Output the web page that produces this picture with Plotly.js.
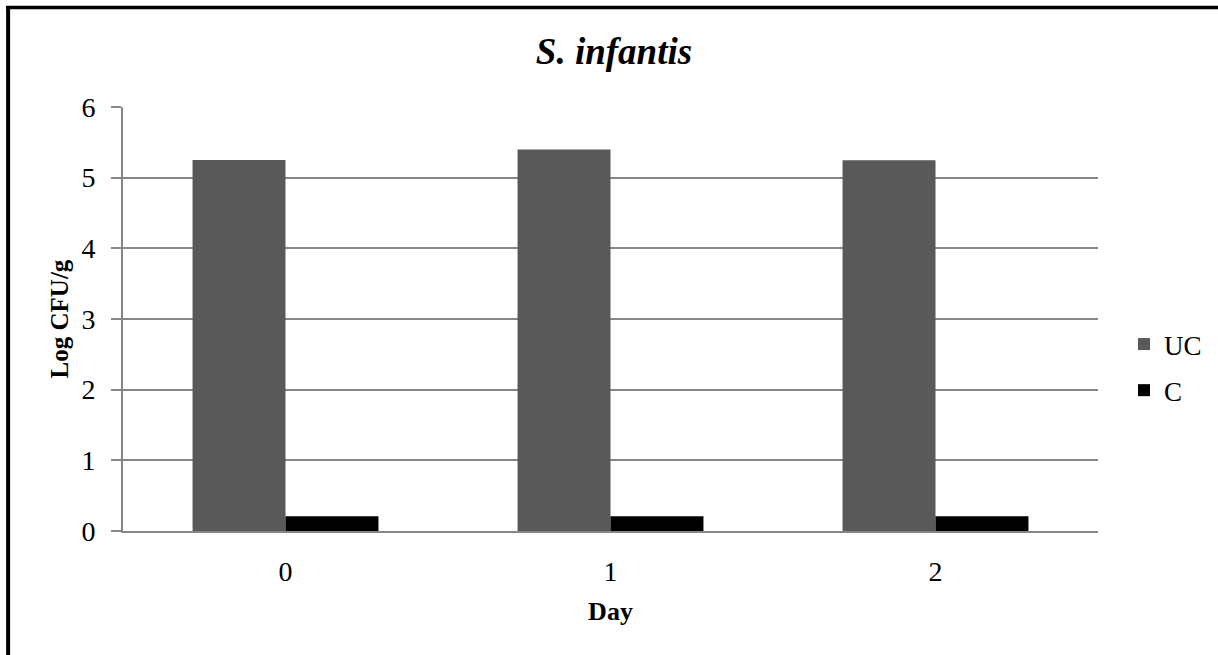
<!DOCTYPE html>
<html>
<head>
<meta charset="utf-8">
<script src="https://cdn.plot.ly/plotly-3.0.1.min.js"></script>
<style>
  html, body { margin: 0; padding: 0; background: #fff; }
  #chart { width: 1218px; height: 655px; }
</style>
</head>
<body>
<div id="chart"></div>
<script>
// Salmonella Infantis counts per storage day
const days = ['0', '1', '2'];
const ucValues = [5.25, 5.40, 5.245];
const cValues = [0.21, 0.21, 0.21];
const yTicks = [0, 1, 2, 3, 4, 5, 6];

const W = 1218, H = 655;
const M = { l: 123, r: 119, t: 107, b: 124 };
const plotW = W - M.l - M.r;
const plotH = H - M.t - M.b;
// pixel -> paper helpers for the frame lines and legend
const px = v => (v - M.l) / plotW;
const py = v => 1 - (v - M.t) / plotH;

const serif = '"Liberation Serif", "Times New Roman", serif';
const grid = '#868686';

const traces = [
  { type: 'bar', name: 'UC', x: days, y: ucValues,
    marker: { color: '#595959', line: { width: 0 } },
    legendgroup: 'uc', hoverinfo: 'y' },
  { type: 'bar', name: 'C', x: days, y: cValues,
    marker: { color: '#000000', line: { width: 0 } },
    legendgroup: 'c', hoverinfo: 'y' }
];

const layout = {
  width: W, height: H,
  margin: M,
  paper_bgcolor: '#fff', plot_bgcolor: '#fff',
  barmode: 'group', bargap: 0.428, bargroupgap: 0,
  font: { family: serif, color: '#000', size: 27 },
  title: {
    text: '<b><i>S. infantis</i></b>',
    font: { family: serif, size: 37, color: '#000' },
    xref: 'container', x: 614 / W, xanchor: 'center',
    yref: 'container', y: 1 - 51 / H, yanchor: 'middle'
  },
  xaxis: {
    type: 'category',
    showgrid: false, zeroline: false,
    showline: true, linecolor: grid, linewidth: 2,
    ticks: '', ticklabelstandoff: 14,
    tickfont: { family: serif, size: 28, color: '#000' },
    title: { text: '<b>Day</b>', font: { family: serif, size: 26, color: '#000' }, standoff: 16 }
  },
  yaxis: {
    range: [0, 6], tickvals: yTicks, ticktext: yTicks.map(String),
    showgrid: true, gridcolor: grid, gridwidth: 2,
    zeroline: false,
    showline: true, linecolor: grid, linewidth: 2,
    ticks: 'outside', ticklen: 10, tickcolor: grid, tickwidth: 2,
    ticklabelstandoff: 10,
    tickfont: { family: serif, size: 28, color: '#000' },
    title: { text: '<b>Log CFU/g</b>', font: { family: serif, size: 25, color: '#000' }, standoff: 6 }
  },
  showlegend: true,
  legend: {
    x: px(1124), xanchor: 'left', y: py(320), yanchor: 'top',
    traceorder: 'grouped', tracegroupgap: 8,
    font: { family: serif, size: 27, color: '#000' },
    bgcolor: 'rgba(0,0,0,0)', borderwidth: 0, itemwidth: 30
  },
  shapes: [
    { type: 'line', xref: 'paper', yref: 'paper', x0: px(8), x1: px(8), y0: py(6), y1: py(H + 5),
      line: { color: '#000', width: 4 } },
    { type: 'line', xref: 'paper', yref: 'paper', x0: px(6), x1: px(W + 5), y0: py(7.5), y1: py(7.5),
      line: { color: '#000', width: 3.5 } }
  ]
};

Plotly.newPlot('chart', traces, layout, { displayModeBar: false, staticPlot: true });
</script>
</body>
</html>
